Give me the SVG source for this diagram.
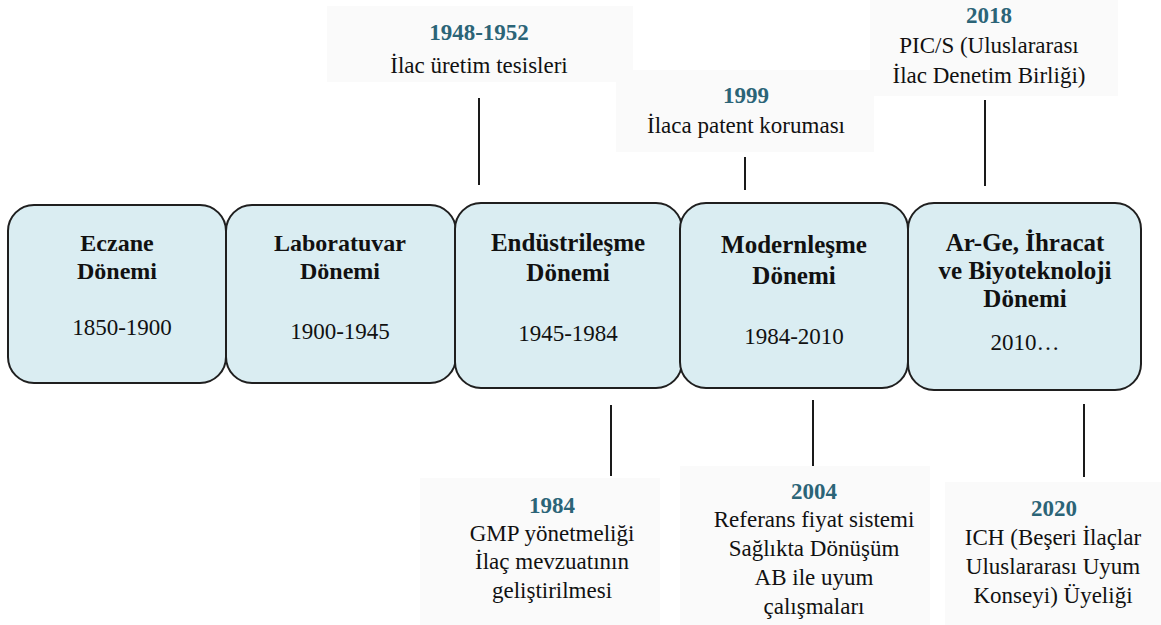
<svg xmlns="http://www.w3.org/2000/svg" width="1161" height="625" viewBox="0 0 1161 625">
<defs>
<style>
.box{fill:#daedf2;stroke:#1f1f1f;stroke-width:2}
.ln{stroke:#1a1a1a;stroke-width:2}
</style>
</defs>
<rect width="1161" height="625" fill="#ffffff"/>
<g id="backgrounds" fill="#fafafa">
<rect x="327" y="6" width="306" height="76"/>
<rect x="616" y="70" width="258" height="82"/>
<rect x="870" y="0" width="248" height="96"/>
<rect x="420" y="478" width="240" height="147"/>
<rect x="680" y="466" width="250" height="159"/>
<rect x="945" y="482" width="216" height="143"/>
</g>
<g id="connectors">
<line class="ln" x1="479" y1="98" x2="479" y2="185"/>
<line class="ln" x1="745" y1="157" x2="745" y2="190"/>
<line class="ln" x1="985" y1="100" x2="985" y2="186"/>
<line class="ln" x1="611" y1="405" x2="611" y2="476"/>
<line class="ln" x1="813" y1="400" x2="813" y2="466"/>
<line class="ln" x1="1084" y1="404" x2="1084" y2="477"/>
</g>
<g id="node-eczane">
<rect class="box" x="8" y="205" width="218" height="178" rx="26"/>
<text font-family="Liberation Serif" text-anchor="middle" fill="#111" font-weight="bold" font-size="24" x="117" y="251">Eczane</text>
<text font-family="Liberation Serif" text-anchor="middle" fill="#111" font-weight="bold" font-size="24" x="117" y="279">Dönemi</text>
<text font-family="Liberation Serif" text-anchor="middle" fill="#111" font-size="23" x="122" y="335">1850-1900</text>
</g>
<g id="node-laboratuvar">
<rect class="box" x="226" y="205" width="230" height="178" rx="26"/>
<text font-family="Liberation Serif" text-anchor="middle" fill="#111" font-weight="bold" font-size="24" x="340" y="251">Laboratuvar</text>
<text font-family="Liberation Serif" text-anchor="middle" fill="#111" font-weight="bold" font-size="24" x="340" y="279">Dönemi</text>
<text font-family="Liberation Serif" text-anchor="middle" fill="#111" font-size="23" x="340" y="339">1900-1945</text>
</g>
<g id="node-endustrilesme">
<rect class="box" x="455" y="203" width="227" height="185" rx="26"/>
<text font-family="Liberation Serif" text-anchor="middle" fill="#111" font-weight="bold" font-size="25" x="568" y="251">Endüstrileşme</text>
<text font-family="Liberation Serif" text-anchor="middle" fill="#111" font-weight="bold" font-size="25" x="568" y="281">Dönemi</text>
<text font-family="Liberation Serif" text-anchor="middle" fill="#111" font-size="23" x="568" y="341">1945-1984</text>
</g>
<g id="node-modernlesme">
<rect class="box" x="680" y="203" width="228" height="185" rx="26"/>
<text font-family="Liberation Serif" text-anchor="middle" fill="#111" font-weight="bold" font-size="25" x="794" y="253">Modernleşme</text>
<text font-family="Liberation Serif" text-anchor="middle" fill="#111" font-weight="bold" font-size="25" x="794" y="284">Dönemi</text>
<text font-family="Liberation Serif" text-anchor="middle" fill="#111" font-size="23" x="794" y="344">1984-2010</text>
</g>
<g id="node-arge">
<rect class="box" x="908" y="203" width="233" height="187" rx="26"/>
<text font-family="Liberation Serif" text-anchor="middle" fill="#111" font-weight="bold" font-size="25" x="1025" y="251">Ar-Ge, İhracat</text>
<text font-family="Liberation Serif" text-anchor="middle" fill="#111" font-weight="bold" font-size="25" x="1025" y="279">ve Biyoteknoloji</text>
<text font-family="Liberation Serif" text-anchor="middle" fill="#111" font-weight="bold" font-size="25" x="1025" y="307">Dönemi</text>
<text font-family="Liberation Serif" text-anchor="middle" fill="#111" font-size="23" x="1025" y="350">2010…</text>
</g>
<g id="event-1948">
<text font-family="Liberation Serif" text-anchor="middle" fill="#2b6477" font-weight="bold" font-size="23" x="479" y="40">1948-1952</text>
<text font-family="Liberation Serif" text-anchor="middle" fill="#111" font-size="23" x="479" y="73">İlac üretim tesisleri</text>
</g>
<g id="event-1999">
<text font-family="Liberation Serif" text-anchor="middle" fill="#2b6477" font-weight="bold" font-size="23" x="746" y="103">1999</text>
<text font-family="Liberation Serif" text-anchor="middle" fill="#111" font-size="23" x="746" y="133">İlaca patent koruması</text>
</g>
<g id="event-2018">
<text font-family="Liberation Serif" text-anchor="middle" fill="#2b6477" font-weight="bold" font-size="23" x="989" y="23">2018</text>
<text font-family="Liberation Serif" text-anchor="middle" fill="#111" font-size="23" x="989" y="53">PIC/S (Uluslararası</text>
<text font-family="Liberation Serif" text-anchor="middle" fill="#111" font-size="23" x="989" y="83">İlac Denetim Birliği)</text>
</g>
<g id="event-1984">
<text font-family="Liberation Serif" text-anchor="middle" fill="#2b6477" font-weight="bold" font-size="23" x="552" y="513">1984</text>
<text font-family="Liberation Serif" text-anchor="middle" fill="#111" font-size="23" x="552" y="541">GMP yönetmeliği</text>
<text font-family="Liberation Serif" text-anchor="middle" fill="#111" font-size="23" x="552" y="569">İlaç mevzuatının</text>
<text font-family="Liberation Serif" text-anchor="middle" fill="#111" font-size="23" x="552" y="598">geliştirilmesi</text>
</g>
<g id="event-2004">
<text font-family="Liberation Serif" text-anchor="middle" fill="#2b6477" font-weight="bold" font-size="23" x="814" y="499">2004</text>
<text font-family="Liberation Serif" text-anchor="middle" fill="#111" font-size="23" x="814" y="527">Referans fiyat sistemi</text>
<text font-family="Liberation Serif" text-anchor="middle" fill="#111" font-size="23" x="814" y="556">Sağlıkta Dönüşüm</text>
<text font-family="Liberation Serif" text-anchor="middle" fill="#111" font-size="23" x="814" y="585">AB ile uyum</text>
<text font-family="Liberation Serif" text-anchor="middle" fill="#111" font-size="23" x="814" y="614">çalışmaları</text>
</g>
<g id="event-2020">
<text font-family="Liberation Serif" text-anchor="middle" fill="#2b6477" font-weight="bold" font-size="23" x="1054" y="516">2020</text>
<text font-family="Liberation Serif" text-anchor="middle" fill="#111" font-size="23" x="1053" y="545">ICH (Beşeri İlaçlar</text>
<text font-family="Liberation Serif" text-anchor="middle" fill="#111" font-size="23" x="1053" y="574">Uluslararası Uyum</text>
<text font-family="Liberation Serif" text-anchor="middle" fill="#111" font-size="23" x="1053" y="603">Konseyi) Üyeliği</text>
</g>
</svg>
